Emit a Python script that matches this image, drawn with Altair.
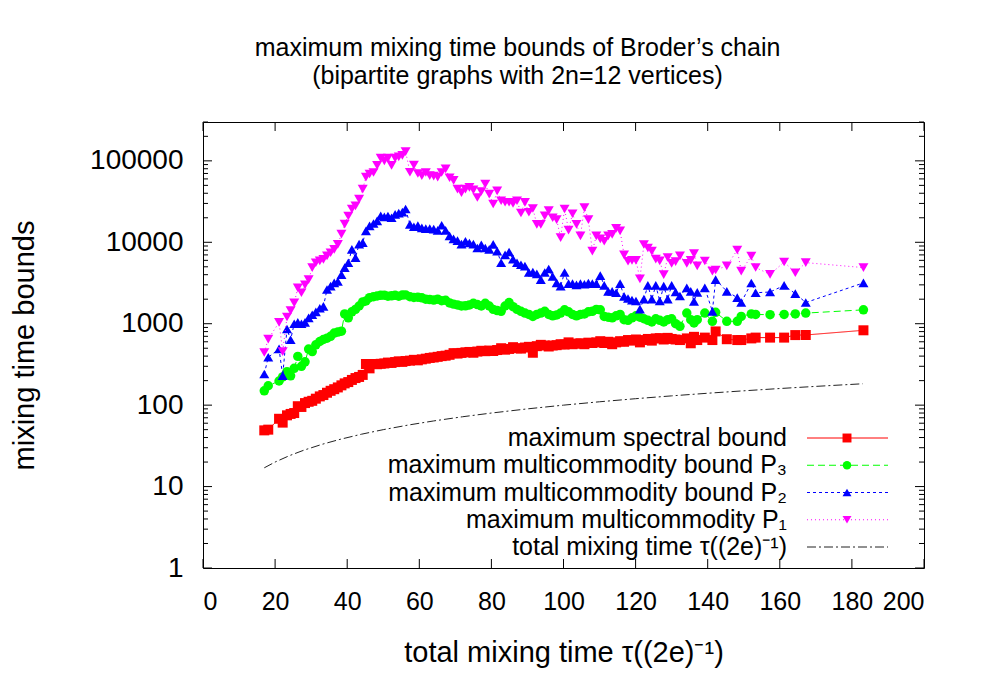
import altair as alt
import pandas as pd

FONT = "Liberation Sans"
W, H = 721, 446

# shared x positions (total mixing time)
x_vals = [
    17.0, 18.1, 21.1, 22.1, 23.3, 24.3, 25.3, 26.3, 27.3, 28.3, 29.3, 30.3, 31.3, 32.4, 33.4,
    34.4, 35.4, 36.4, 37.4, 38.4, 39.3, 40.3, 41.3, 42.3, 43.3, 44.3, 45.2,
    46.2, 47.3, 48.3, 49.3, 50.3, 51.3, 52.3, 53.3, 54.3, 55.3, 56.2, 57.4, 58.5, 59.6, 60.7,
    61.8, 62.9, 64.0, 65.1, 66.2,
    67.3, 68.4, 69.5, 70.6, 71.7, 72.8, 73.9, 75.0, 76.1, 77.2, 78.3, 79.4, 80.5, 81.6, 82.7,
    83.8, 84.9, 86.0, 87.1, 88.2, 89.3, 90.4, 91.5, 92.6, 93.7, 94.8, 95.9, 97.0, 98.1, 99.2,
    100.3, 101.4, 102.5, 103.6, 104.7, 105.8, 106.9, 108.0, 109.1, 110.2, 111.3, 112.4, 113.5,
    114.6, 115.7, 116.8, 117.9, 119.0, 120.1, 121.2, 122.3, 123.4, 124.5, 125.6, 126.7, 127.8,
    128.9, 130.0, 131.1,
    132.3, 134.2, 135.3, 136.2, 137.1, 139.2, 141.3, 142.2, 145.3, 148.2, 149.3, 152.1, 153.3,
    157.3, 161.2, 164.3, 167.2, 183.2,
]

spectral = [
    49, 50, 68, 61, 75, 78, 80, 97, 95, 106, 110, 113, 120, 128, 133, 142, 150, 157, 165, 175,
    185, 192, 204, 215, 222, 235, 320,
    283, 320, 318, 322, 325, 333, 330, 338, 345, 340, 348, 352, 360, 355, 365, 372, 380, 385, 392, 400,
    405, 415, 435, 430, 438, 445, 450, 440, 455, 465, 460, 468, 462, 475, 500, 480, 490, 515, 500, 495,
    510, 520, 440, 530, 550, 540, 525, 540, 545, 560, 555, 590, 560, 570, 575, 560, 585, 580, 590, 610,
    580, 600, 560, 590, 610, 600, 630, 620, 640, 590, 630, 650, 620, 660, 665, 640, 670, 650, 640,
    630, 660, 575, 690, 630, 675, 630, 804, 645, 630, 630, 660, 675, 675, 675, 725, 727, 830,
]

p3 = [
    150, 173, 198, 222, 258, 229, 283, 397, 300, 340, 488, 455, 550, 605, 640, 665, 700, 767, 790, 810,
    1320, 1180, 1400, 1500, 1650, 1850, 1900,
    2090, 2150, 2190, 2230, 2240, 2180, 2200, 2230, 2180, 2250, 2260, 2150, 2100, 2120, 2080, 2000,
    1980, 1950, 2000, 1920,
    1940, 1800, 1740, 1700, 1650, 1660, 1700, 1780, 1720, 1650, 1780, 1650, 1500, 1450, 1420, 1650,
    1820, 1620, 1500, 1420, 1350, 1300, 1230, 1300, 1350, 1420, 1300, 1250, 1280, 1350, 1480, 1400,
    1300, 1250, 1300, 1320, 1400, 1420, 1500, 1480, 1230, 1200, 1180, 1250, 1300, 1120, 1100, 1180,
    1250, 1200, 1150, 1100, 1050, 1150, 1100, 1050, 1120, 1150, 1000,
    930, 1350, 1120, 1020, 1120, 1350, 1070, 1380, 1070, 1070, 1230, 1320, 1300, 1290, 1300, 1320,
    1350, 1480,
]

p2 = [
    241, 387, 490, 230, 860, 635, 1000, 1040, 1000, 1040, 1180, 1290, 1400, 1550, 1630, 2630, 2900,
    3180, 3300, 4000, 4890, 5600, 8170, 6460, 9500, 9920, 13800,
    15900, 17000, 18300, 21100, 20500, 21000, 20000, 22000, 22800, 23500, 25600, 16600, 15500, 16000,
    15000, 14700, 14700, 14500, 14000, 16200,
    14000, 12000, 11000, 10500, 9500, 10300, 9800, 9500, 8500, 9300, 8500, 8200, 9440, 7800, 5600,
    7000, 7600, 6200, 5600, 5300, 5100, 4250, 4300, 4100, 3480, 4250, 4700, 3800, 3170, 2900, 4250,
    3100, 3100, 3000, 3100, 3050, 3160, 3100, 3100, 3900, 2950, 2500, 2500, 2400, 3100, 2170, 2040,
    1950, 1900, 1510, 2000, 2950, 2000, 2950, 1900, 2900, 2000, 2950, 2450,
    2190, 2750, 2500, 1880, 2430, 2750, 1420, 3480, 2500, 2090, 1820, 3160, 2400, 2450, 2950, 2340,
    1820, 3170,
]

p1 = [
    443, 648, 1038, 455, 1210, 1450, 1800, 2750, 2400, 3000, 3480, 4890, 5600, 5900, 6170, 6800,
    7440, 8200, 9440, 12580, 16700, 21000, 25600, 28000, 33900, 45000, 63000,
    69000, 72000, 87800, 108000, 100000, 108000, 88000, 108000, 112000, 117000, 130000, 72500, 89000,
    70000, 66000, 72000, 66000, 65000, 63000, 72000,
    79600, 62000, 57500, 45000, 40700, 45000, 47300, 44000, 35500, 42000, 52000, 39000, 29500, 42700,
    32400, 31000, 31000, 30000, 32400, 22900, 30900, 23400, 26000, 16600, 16600, 21100, 24500, 20000,
    19000, 11400, 25600, 14100, 22400, 16600, 12000, 26700, 19000, 7800, 12000, 11000, 10300, 12000,
    12500, 14800, 13800, 7000, 5850, 6000, 6000, 3550, 9400, 8500, 7800, 6200, 5900, 4000, 6500,
    5500, 5800,
    6800, 5500, 6000, 7240, 5130, 5890, 4420, 4570, 5130, 8040, 4420, 6760, 4900, 4030, 5720, 4220,
    5620, 4890,
]

tau_x = [17, 20, 24, 28, 33, 38, 44, 50, 57, 64, 72, 80, 90, 100, 110, 120, 130, 140, 150, 160, 170, 183]
tau_y = [17, 20, 24, 28, 33, 38, 44, 50, 57, 64, 72, 80, 90, 100, 110, 120, 130, 140, 150, 160, 170, 183]

x_ticks = [0, 20, 40, 60, 80, 100, 120, 140, 160, 180, 200]
y_ticks = [1, 10, 100, 1000, 10000, 100000]
y_minor = [m * d for d in [1, 10, 100, 1000, 10000, 100000] for m in range(2, 10) if m * d <= 300000]

labels = [
    "maximum spectral bound",
    "maximum multicommodity bound P\u2083",
    "maximum multicommodity bound P\u2082",
    "maximum multicommodity P\u2081",
    "total mixing time \u03c4((2e)\u207b\u00b9)",
]

styles = [
    dict(color="#ff0000", dash=[1, 0], shape="square", size=100),
    dict(color="#00ff00", dash=[7, 4], shape="circle", size=90),
    dict(color="#0000ff", dash=[3, 3], shape="triangle-up", size=100),
    dict(color="#ff00ff", dash=[1, 3], shape="triangle-down", size=100),
    dict(color="#222222", dash=[9, 3, 2, 3], shape=None, size=0),
]

xscale = alt.Scale(domain=[0, 200], nice=False, zero=False)
yscale = alt.Scale(type="log", domain=[1, 300000], nice=False)
xaxis = alt.Axis(values=x_ticks, ticks=False, domain=False, grid=False, labelPadding=21,
                 labelFontSize=25, titleFontSize=29,
                 title="total mixing time \u03c4((2e)\u207b\u00b9)", titlePadding=24)
yaxis = alt.Axis(values=y_ticks, ticks=False, domain=False, grid=False, format="d", labelPadding=20,
                 labelFontSize=28, titleFontSize=29,
                 title="mixing time bounds", titlePadding=50)

X = lambda f: alt.X(f, scale=xscale, axis=xaxis)
Y = lambda f: alt.Y(f, scale=yscale, axis=yaxis)

data_layers = []
for vals, st in zip([spectral, p3, p2, p1], styles[:4]):
    df = pd.DataFrame({"x": x_vals, "y": vals})
    data_layers.append(
        alt.Chart(df).mark_line(color=st["color"], strokeWidth=1, strokeDash=st["dash"])
        .encode(x=X("x:Q"), y=Y("y:Q"))
    )
    data_layers.append(
        alt.Chart(df).mark_point(shape=st["shape"], size=st["size"], filled=True, color=st["color"],
                                 opacity=1, strokeWidth=0)
        .encode(x=X("x:Q"), y=Y("y:Q"))
    )
tau_df = pd.DataFrame({"x": tau_x, "y": tau_y})
data_layers.append(
    alt.Chart(tau_df).mark_line(color=styles[4]["color"], strokeWidth=1, strokeDash=styles[4]["dash"])
    .encode(x=X("x:Q"), y=Y("y:Q"))
)

# inward tick marks on all four sides
ymaj = pd.DataFrame({"v": y_ticks})
ymin = pd.DataFrame({"v": y_minor})
xt = pd.DataFrame({"v": x_ticks})
tick_layers = []
for df, ln in [(ymaj, 9), (ymin, 5)]:
    tick_layers.append(alt.Chart(df).mark_rule(color="black", strokeWidth=1)
                       .encode(y=Y("v:Q"), x=alt.value(0), x2=alt.value(ln)))
    tick_layers.append(alt.Chart(df).mark_rule(color="black", strokeWidth=1)
                       .encode(y=Y("v:Q"), x=alt.value(W - ln), x2=alt.value(W)))
tick_layers.append(alt.Chart(xt).mark_rule(color="black", strokeWidth=1)
                   .encode(x=X("v:Q"), y=alt.value(H), y2=alt.value(H - 9)))
tick_layers.append(alt.Chart(xt).mark_rule(color="black", strokeWidth=1)
                   .encode(x=X("v:Q"), y=alt.value(0), y2=alt.value(9)))

# key, gnuplot style (text left, sample right)
ley = alt.Y("row:Q", scale=alt.Scale(domain=[0, 4], range=[316, 425]), axis=None)
legend_layers = []
for i, (lab, st) in enumerate(zip(labels, styles)):
    df = pd.DataFrame({"row": [i], "label": [lab]})
    legend_layers.append(alt.Chart(df).mark_text(align="right", baseline="middle", font=FONT,
                                                 fontSize=25, color="black")
                         .encode(y=ley, x=alt.value(584), text="label:N"))
    legend_layers.append(alt.Chart(df).mark_rule(color=st["color"], strokeWidth=1, strokeDash=st["dash"])
                         .encode(y=ley, x=alt.value(604), x2=alt.value(685)))
    if st["shape"]:
        legend_layers.append(alt.Chart(df).mark_point(shape=st["shape"], size=st["size"] * 0.8, filled=True,
                                                      color=st["color"], opacity=1, strokeWidth=0)
                             .encode(y=ley, x=alt.value(644)))

main = alt.layer(*tick_layers, *data_layers)
leg = alt.layer(*legend_layers)

chart = (
    alt.layer(main, leg)
    .resolve_scale(y="independent")
    .properties(
        width=W, height=H,
        padding={"left": 2, "top": 27, "right": 5, "bottom": 5},
        title=alt.TitleParams(
            text=["maximum mixing time bounds of Broder\u2019s chain",
                  "(bipartite graphs with 2n=12 vertices)"],
            font=FONT, fontSize=25, fontWeight="normal", anchor="middle", dx=-46,
            lineHeight=28, offset=33, color="black",
        ),
    )
    .configure_view(stroke="black", strokeWidth=1)
    .configure_axis(labelFont=FONT, labelColor="black", titleFont=FONT,
                    titleFontWeight="normal", titleColor="black")
)

chart.save("out.html", embed_options={"renderer": "svg", "actions": False})
